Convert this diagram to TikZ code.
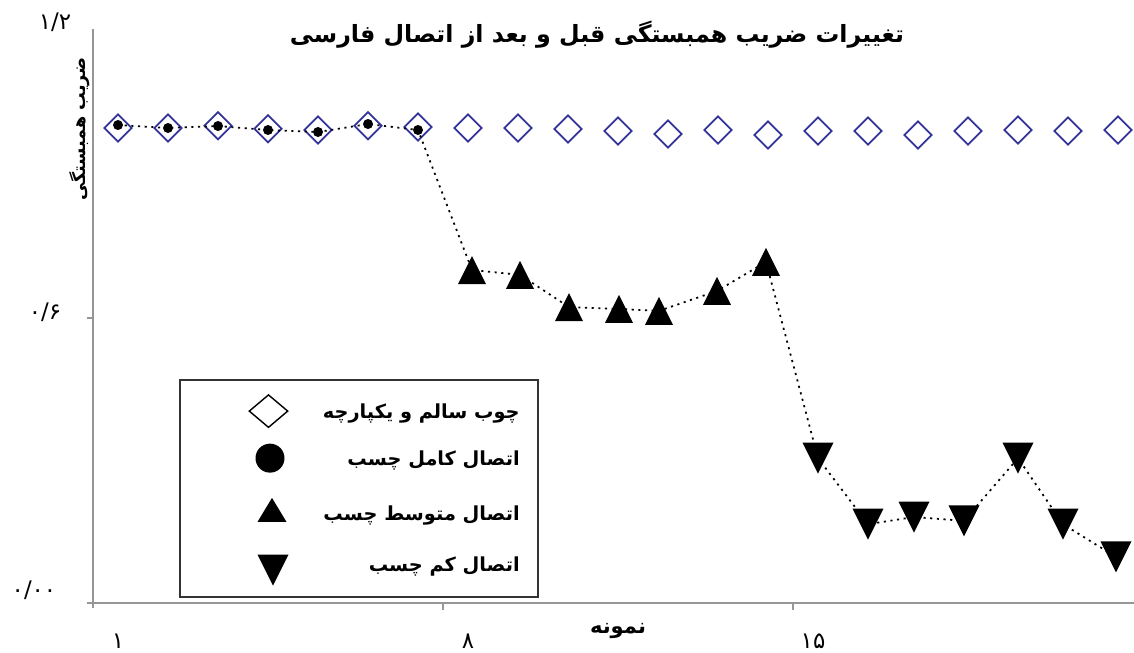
\documentclass[tikz,border=0pt]{standalone}
\usepackage{fontspec}
\newfontfamily\farsifont[Script=Arabic]{DejaVu Sans}
\TeXXeTstate=1
\usetikzlibrary{shapes.geometric}

\definecolor{diamondblue}{RGB}{51,51,153}
\definecolor{axisgray}{RGB}{150,150,150}
\newcommand{\fa}[1]{\beginR #1\endR}

\begin{document}
\begin{tikzpicture}[x=1cm,y=9.5cm,
  axisline/.style={axisgray,line width=1pt},
  sound/.style={shape=diamond,draw=diamondblue,line width=1pt,minimum size=0.56cm,inner sep=0pt},
  full/.style={shape=circle,fill=black,minimum size=0.2cm,inner sep=0pt},
  triup/.style={minimum width=0.56cm,minimum height=0.56cm,inner sep=0pt,
    path picture={\fill (path picture bounding box.south west) -- (path picture bounding box.south east) -- (path picture bounding box.north) -- cycle;}},
  tridown/.style={minimum width=0.62cm,minimum height=0.62cm,inner sep=0pt,
    path picture={\fill (path picture bounding box.north west) -- (path picture bounding box.north east) -- (path picture bounding box.south) -- cycle;}},
  link/.style={line width=1pt,dash pattern=on 1.2pt off 2.6pt},
  num/.style={font=\farsifont\fontsize{13}{15}\selectfont,inner sep=0pt},
  lbl/.style={font=\farsifont\bfseries\fontsize{11}{13}\selectfont,inner sep=0pt}
]
\useasboundingbox (-1.36,-0.1032) rectangle (21.32,1.2695);

% axes
\draw[axisline] (0.38,0) -- (21.32,0);
\draw[axisline] (0.5,-0.0105) -- (0.5,1.208);
\draw[axisline] (0.38,0.6) -- (0.5,0.6);
\draw[axisline] (7.5,0) -- (7.5,-0.015);
\draw[axisline] (14.5,0) -- (14.5,-0.015);

\node[num] (ytop) at (-0.26,1.223) {۱/۲};
\node[num] (ymid) at (-0.46,0.613) {۰/۶};
\node[num] (ybot) at (-0.68,0.027) {۰/۰۰};
\node[num] (xone) at (1,-0.081) {۱};
\node[num] (xeight) at (8,-0.081) {۸};
\node[num] (xfifteen) at (14.9,-0.081) {۱۵};

\node[lbl,font=\farsifont\bfseries\fontsize{13.5}{16}\selectfont] (title) at (10.58,1.197) {\fa{تغییرات ضریب همبستگی قبل و بعد از اتصال فارسی}};
\node[lbl,rotate=90,font=\farsifont\bfseries\fontsize{10}{12}\selectfont] (ytitle) at (0.24,0.998) {\fa{ضریب همبستگی}};
\node[lbl,font=\farsifont\bfseries\fontsize{12}{14}\selectfont] (xtitle) at (11,-0.059) {\fa{نمونه}};

% series
\foreach \y [count=\i] in {1.0,1.0,1.0048,0.9985,0.9958,1.0048,1.0021,1.0,1.0,0.9979,0.9937,
  0.9874,0.9958,0.9853,0.9937,0.9937,0.9853,0.9937,0.9958,0.9937,0.9958}
  \node[sound] (d\i) at (\i,\y) {};
\foreach \y [count=\i] in {1.0063,1.0,1.0042,0.9958,0.9916,1.0084,0.9958}
  \node[full] (p\i) at (\i,\y) {};
\foreach \x/\y [count=\i from 8] in {8.08/0.701,9.04/0.691,10.02/0.623,11.02/0.619,11.82/0.615,12.98/0.657,13.96/0.718}
  \node[triup] (p\i) at (\x,\y) {};
\foreach \x/\y [count=\i from 15] in {15/0.305,16/0.166,16.92/0.181,17.92/0.173,19/0.305,19.9/0.166,20.96/0.097}
  \node[tridown] (p\i) at (\x,\y) {};
\draw[link] (p1.center) \foreach \i in {2,...,21}{ -- (p\i.center)};

% legend
\draw[black!80,line width=1pt] (2.24,0.0126) rectangle (9.4,0.4695);
\node[sound,draw=black,line width=0.8pt,minimum width=0.78cm,minimum height=0.66cm] (k1) at (4.01,0.404) {};
\node[full,minimum size=0.58cm] (k2) at (4.04,0.305) {};
\node[triup,minimum width=0.58cm,minimum height=0.48cm] (k3) at (4.08,0.196) {};
\node[tridown] (k4) at (4.1,0.069) {};
\node[lbl,anchor=east] (t1) at (9.04,0.4) {\fa{چوب سالم و یکپارچه}};
\node[lbl,anchor=east] (t2) at (9.04,0.299) {\fa{اتصال کامل چسب}};
\node[lbl,anchor=east] (t3) at (9.04,0.185) {\fa{اتصال متوسط چسب}};
\node[lbl,anchor=east] (t4) at (9.04,0.076) {\fa{اتصال کم چسب}};

\end{tikzpicture}
\end{document}
